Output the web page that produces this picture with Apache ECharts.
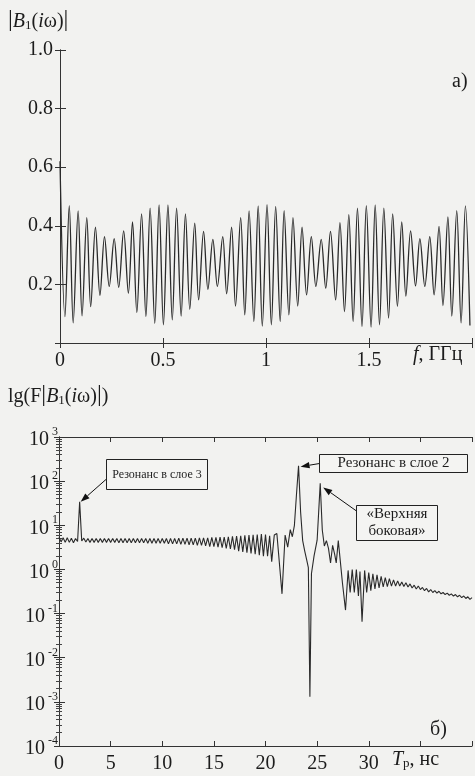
<!DOCTYPE html>
<html><head><meta charset="utf-8">
<script src="https://cdn.jsdelivr.net/npm/echarts@6/dist/echarts.min.js"></script>
<style>html,body{margin:0;padding:0;background:#f2f2f0;}#c{width:475px;height:776px;}</style>
</head><body><div id="c"></div>
<script>
// ---- panel a) |B1(iω)| vs f, GHz ----
const freqGHz = [0,0.024,0.045,0.064,0.088,0.107,0.130,0.149,0.172,0.194,0.216,0.239,0.263,0.285,0.309,0.332,0.352,0.373,0.396,0.417,0.4375,0.460,0.481,0.502,0.524,0.545,0.566,0.588,0.609,0.630,0.654,0.673,0.697,0.718,0.742,0.764,0.790,0.809,0.833,0.852,0.877,0.897,0.918,0.941,0.962,0.982,1.005,1.026,1.047,1.069,1.088,1.111,1.131,1.154,1.175,1.197,1.220,1.242,1.268,1.290,1.313,1.338,1.359,1.381,1.402,1.423,1.444,1.466,1.487,1.510,1.530,1.551,1.572,1.595,1.615,1.638,1.659,1.679,1.702,1.726,1.747,1.771,1.795,1.816,1.840,1.859,1.883,1.902,1.926,1.947,1.968,1.99];
const magA = [0.62,0.090,0.469,0.069,0.451,0.093,0.428,0.124,0.395,0.163,0.363,0.193,0.356,0.190,0.383,0.170,0.413,0.104,0.441,0.090,0.460,0.067,0.471,0.062,0.471,0.079,0.460,0.092,0.441,0.115,0.409,0.147,0.381,0.183,0.354,0.193,0.363,0.168,0.395,0.126,0.428,0.096,0.451,0.073,0.468,0.058,0.472,0.062,0.466,0.073,0.452,0.096,0.428,0.126,0.395,0.164,0.363,0.193,0.354,0.187,0.381,0.147,0.411,0.107,0.438,0.073,0.460,0.056,0.469,0.054,0.471,0.062,0.460,0.085,0.441,0.125,0.413,0.160,0.383,0.195,0.356,0.193,0.363,0.164,0.398,0.128,0.430,0.092,0.452,0.069,0.468,0.060];
const yTicksA = [0.2,0.4,0.6,0.8,1.0];
const xTicksA = [0,0.5,1,1.5];

// ---- panel б) lg(F|B1|) vs Tp, ns ----
const tauNs = [0,0.2,0.4,0.6,0.8,1.0,1.2,1.4,1.6,1.8,2.0,2.2,2.4,2.6,2.8,3.0,3.2,3.4,3.6,3.8,4.0,4.2,4.4,4.6,4.8,5.0,5.2,5.4,5.6,5.8,6.0,6.2,6.4,6.6,6.8,7.0,7.2,7.4,7.6,7.8,8.0,8.2,8.4,8.6,8.8,9.0,9.2,9.4,9.6,9.8,10.0,10.2,10.4,10.6,10.8,11.0,11.2,11.4,11.6,11.8,12.0,12.2,12.4,12.6,12.8,13.0,13.2,13.4,13.6,13.8,14.0,14.2,14.4,14.6,14.8,15.0,15.2,15.4,15.6,15.8,16.0,16.2,16.4,16.6,16.8,17.0,17.2,17.4,17.6,17.8,18.0,18.2,18.4,18.6,18.8,19.0,19.2,19.4,19.6,19.8,20.0,
  20.2,20.4,20.6,20.85,21.1,21.6,21.9,22.15,22.4,22.6,22.8,23.0,23.2,23.4,23.6,23.8,24.0,24.15,24.3,24.45,24.7,25.0,25.15,25.3,25.5,25.7,25.9,26.1,26.3,26.5,26.7,26.85,27.05,27.25,27.45,27.75,28.0,28.2,28.4,28.6,28.8,29.0,29.15,29.35,29.6,29.8,30.0,30.2,30.4,30.6,30.8,31.0,31.2,31.4,31.6,31.8,32.0,32.2,32.4,32.6,32.8,33.0,33.2,33.4,33.6,33.8,34.0,34.2,34.4,34.6,34.8,35.0,35.2,35.4,35.6,35.8,36.0,36.2,36.4,36.6,36.8,37.0,37.2,37.4,37.6,37.8,38.0,38.2,38.4,38.6,38.8,39.0,39.2,39.4,39.6,39.8,40.0];
const magB = [5.5,4.2,5.2,4.1,5.2,4.1,5.1,4.0,5.0,4.3,34,4.4,5.1,4.2,5.0,4.1,5.0,4.1,5.0,4.1,5.0,4.1,5.0,4.1,5.0,4.1,5.0,4.1,5.0,4.0,5.0,4.0,5.0,4.0,5.0,4.0,5.0,4.0,5.0,4.0,5.0,4.0,5.0,3.9,5.0,3.9,5.0,3.9,5.0,3.9,5.0,3.9,5.0,3.8,5.0,3.8,5.0,3.8,5.1,3.7,5.1,3.7,5.1,3.6,5.1,3.6,5.1,3.5,5.2,3.5,5.2,3.4,5.2,3.3,5.3,3.3,5.3,3.2,5.4,3.1,5.4,3.0,5.5,2.9,5.6,2.8,5.7,2.6,5.8,2.5,5.9,2.4,6.0,2.3,6.1,2.2,6.2,2.1,6.3,2.0,6.2,
  2.0,5.8,1.5,6.0,6.5,0.28,6.0,3.2,8.0,5.5,10,50,224,20,4.5,2.6,1.6,1.1,0.0013,0.8,2.0,4.6,20,89,7.8,3.4,4.5,3.0,1.4,3.5,2.2,1.4,4.5,1.5,0.5,0.12,0.95,0.3,1.0,0.3,1.0,0.25,0.9,0.065,0.95,0.3,0.85,0.33,0.8,0.36,0.75,0.38,0.7,0.4,0.65,0.41,0.62,0.42,0.58,0.42,0.55,0.42,0.52,0.41,0.5,0.4,0.47,0.38,0.44,0.36,0.42,0.35,0.39,0.33,0.37,0.31,0.35,0.3,0.33,0.29,0.32,0.28,0.3,0.27,0.29,0.26,0.28,0.25,0.27,0.24,0.26,0.23,0.25,0.22,0.24,0.21,0.23];
const xTicksB = [0,5,10,15,20,25,30];
const annLayer3 = 'Резонанс в слое 3';
const annLayer2 = 'Резонанс в слое 2';
const annUpper = ['«Верхняя', 'боковая»'];

const SERIF = "'Liberation Serif','DejaVu Serif',serif";
const INK = '#1c1c1c';
const chart = echarts.init(document.getElementById('c'), null, {renderer:'canvas'});

const axLine = {show:true, lineStyle:{color:'#333', width:1}};
const tickIn = (len)=>({show:true, inside:true, length:len, lineStyle:{color:'#333', width:1}});

const option = {
  backgroundColor:'#f2f2f0',
  animation:false,
  grid:[
    {left:60, top:50, width:414, height:293},
    {left:59, top:437, width:414, height:309}
  ],
  xAxis:[
    {gridIndex:0, type:'value', min:0, max:2, interval:0.5, position:'bottom',
     axisLine:axLine, axisTick:tickIn(5), splitLine:{show:false},
     axisLabel:{margin:8, fontFamily:SERIF, fontSize:20, color:INK,
       formatter:v=> xTicksA.indexOf(v)>=0 ? String(v) : ''}},
    {gridIndex:0, type:'value', min:0, max:2, interval:0.5, position:'top',
     axisLine:axLine, axisTick:tickIn(5), axisLabel:{show:false}, splitLine:{show:false}},
    {gridIndex:1, type:'value', min:0, max:40, interval:5, position:'bottom',
     axisLine:axLine, axisTick:tickIn(5), splitLine:{show:false},
     axisLabel:{margin:8, fontFamily:SERIF, fontSize:20, color:INK,
       formatter:v=> xTicksB.indexOf(v)>=0 ? String(v) : ''}},
    {gridIndex:1, type:'value', min:0, max:40, interval:5, position:'top',
     axisLine:axLine, axisTick:tickIn(5), axisLabel:{show:false}, splitLine:{show:false}}
  ],
  yAxis:[
    {gridIndex:0, type:'value', min:0, max:1, interval:0.2, position:'left',
     axisLine:axLine, axisTick:tickIn(6), splitLine:{show:false},
     axisLabel:{margin:7, fontFamily:SERIF, fontSize:20, color:INK,
       formatter:v=>{ const t = yTicksA.find(a=>Math.abs(a-v)<1e-9); return t===undefined ? '' : t.toFixed(1); }}},
    {gridIndex:0, type:'value', min:0, max:1, interval:0.2, position:'right',
     axisLine:axLine, axisTick:tickIn(5), axisLabel:{show:false}, splitLine:{show:false}},
    {gridIndex:1, type:'log', logBase:10, min:1e-4, max:1e3, position:'left',
     axisLine:axLine, axisTick:tickIn(6), splitLine:{show:false},
     minorTick:{show:true, splitNumber:9, length:3, lineStyle:{color:'#444'}},
     axisLabel:{margin:1, color:INK,
       formatter:v=>'{b|10}{s|'+Math.round(Math.log10(v))+'}',
       rich:{ b:{fontFamily:SERIF, fontSize:20, color:INK, padding:[6,3,0,0]},
              s:{fontFamily:SERIF, fontSize:12, color:INK, padding:[0,0,10,0]} }}},
    {gridIndex:1, type:'log', logBase:10, min:1e-4, max:1e3, position:'right',
     axisLine:axLine, axisTick:tickIn(5), axisLabel:{show:false}, splitLine:{show:false},
     minorTick:{show:true, splitNumber:9, length:3, lineStyle:{color:'#444'}}}
  ],
  series:[
    {type:'line', xAxisIndex:0, yAxisIndex:0, showSymbol:false, smooth:0.35,
     lineStyle:{color:'#2a2a2a', width:1.3},
     data:freqGHz.map((f,i)=>[f, magA[i]])},
    {type:'line', xAxisIndex:2, yAxisIndex:2, showSymbol:false, smooth:false,
     lineStyle:{color:'#2a2a2a', width:1.1},
     data:tauNs.map((t,i)=>[t, magB[i]])}
  ]
};
chart.setOption(option);

function arrow(x1,y1,x2,y2){
  const dx=x2-x1, dy=y2-y1, L=Math.hypot(dx,dy), ux=dx/L, uy=dy/L;
  const hl=9, hw=3.2;
  const bx=x2-ux*hl, by=y2-uy*hl;
  return [
    {type:'line', shape:{x1:x1,y1:y1,x2:bx,y2:by}, style:{stroke:'#111', lineWidth:1}},
    {type:'polygon', shape:{points:[[x2,y2],[bx-uy*hw,by+ux*hw],[bx+uy*hw,by-ux*hw]]}, style:{fill:'#111'}}
  ];
}
function peakIdx(lo,hi){ let b=-1; tauNs.forEach((t,i)=>{ if(t>=lo&&t<=hi&&(b<0||magB[i]>magB[b])) b=i; }); return b; }
const px = (i)=>chart.convertToPixel({xAxisIndex:2, yAxisIndex:2}, [tauNs[i], magB[i]]);
const p3 = px(peakIdx(1,3)), p2 = px(peakIdx(22,24)), pU = px(peakIdx(24.8,26));

const txt = (left, top, text, rich, extra)=>Object.assign({type:'text', left:left, top:top, z:10,
  style:{text:text, rich:rich, fill:INK, font:'20px '+SERIF}}, extra||{});
const richMain = {
  n:{fontFamily:SERIF, fontSize:20, color:INK, lineHeight:26, verticalAlign:'bottom'},
  i:{fontFamily:SERIF, fontSize:20, fontStyle:'italic', color:INK, lineHeight:26, verticalAlign:'bottom'},
  bar:{fontFamily:SERIF, fontSize:24, color:INK, lineHeight:26, verticalAlign:'bottom'},
  sub:{fontFamily:SERIF, fontSize:13, color:INK, lineHeight:26, verticalAlign:'bottom', padding:[0,0,0,0]}
};

const graphics = [
  txt(8, 8, '{bar||}{i|B}{sub|1}{n|(}{i|i}{n|ω)}{bar||}', richMain),
  txt(452, 72, '{n|a)}', richMain),
  txt(413, 345, '{i|f}{n|, ГГц}', richMain),
  txt(8, 383, '{n|lg(F}{bar||}{i|B}{sub|1}{n|(}{i|i}{n|ω)}{bar||}{n|)}', richMain),
  txt(430, 720, '{n|б)}', richMain),
  txt(392, 750, '{i|T}{sub|р}{n|, нс}', richMain),
  // box: layer 3
  {type:'rect', shape:{x:106.5, y:459.5, width:101, height:30}, style:{fill:'#f4f4f2', stroke:'#222', lineWidth:1}, z:5},
  {type:'text', x:157, y:474.5, z:6, style:{text:annLayer3, fill:INK, font:'12px '+SERIF, align:'center', verticalAlign:'middle'}},
  // box: layer 2
  {type:'rect', shape:{x:319.5, y:454.5, width:148, height:18}, style:{fill:'#f4f4f2', stroke:'#222', lineWidth:1}, z:5},
  {type:'text', x:393.5, y:463.5, z:6, style:{text:annLayer2, fill:INK, font:'15px '+SERIF, align:'center', verticalAlign:'middle'}},
  // box: upper sideband
  {type:'rect', shape:{x:356.5, y:505.5, width:81, height:35}, style:{fill:'#f4f4f2', stroke:'#222', lineWidth:1}, z:5},
  {type:'text', x:397, y:514, z:6, style:{text:annUpper[0], fill:INK, font:'15px '+SERIF, align:'center', verticalAlign:'middle'}},
  {type:'text', x:397, y:531, z:6, style:{text:annUpper[1], fill:INK, font:'15px '+SERIF, align:'center', verticalAlign:'middle'}}
]
.concat(arrow(106.5, 479, p3[0]+1, p3[1]))
.concat(arrow(319.5, 463.5, p2[0]+2, p2[1]+1))
.concat(arrow(356.5, 511, pU[0]+3, pU[1]+4));

chart.setOption({graphic:graphics});
</script>
</body></html>
